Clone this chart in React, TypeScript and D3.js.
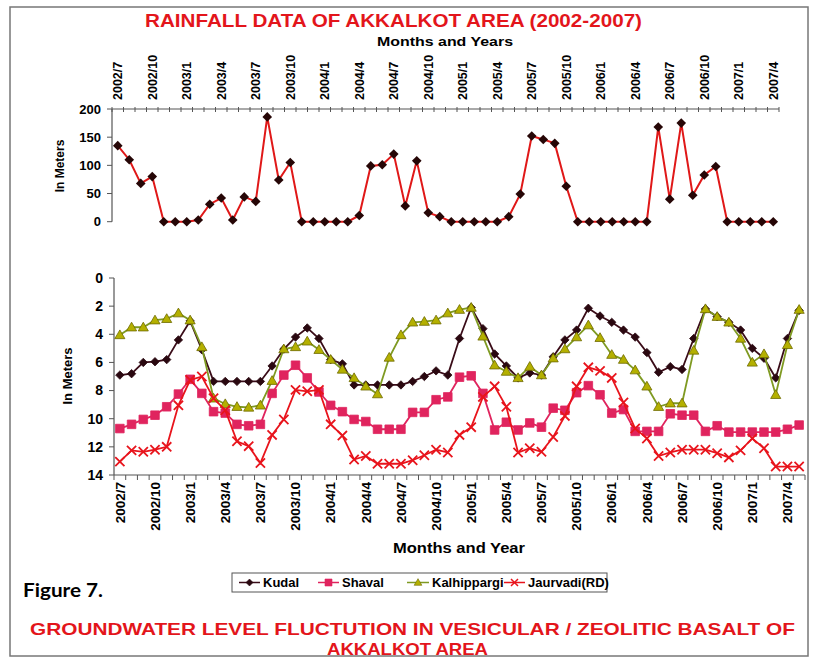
import { useEffect, useRef } from "react";
import * as d3 from "d3";

const W = 813;
const H = 659;
const FONT = "'Liberation Sans', Arial, sans-serif";

// tick labels shown every third month on both charts
const tickLabels = [
  "2002/7", "2002/10", "2003/1", "2003/4", "2003/7", "2003/10", "2004/1",
  "2004/4", "2004/7", "2004/10", "2005/1", "2005/4", "2005/7", "2005/10",
  "2006/1", "2006/4", "2006/7", "2006/10", "2007/1", "2007/4",
];

// monthly rainfall, 2002/7 .. 2007/4
const rainfall = [
  135, 110, 68, 80, 0, 0, 0, 3, 31, 42, 3, 44, 36, 186, 74, 105, 0, 0, 0, 0,
  0, 11, 99, 101, 120, 28, 108, 16, 9, 0, 0, 0, 0, 0, 9, 49, 152, 146, 139, 63,
  0, 0, 0, 0, 0, 0, 0, 168, 40, 175, 47, 83, 98, 0, 0, 0, 0, 0,
];
const rainTicks = [0, 50, 100, 150, 200];

// groundwater depth below ground (m), 2002/7 .. 2007/5
const kudal = [
  6.9, 6.8, 6.0, 5.95, 5.8, 4.4, 3.05, 5.1, 7.35, 7.35, 7.35, 7.35, 7.35, 6.25, 5.05, 4.2, 3.55, 4.3, 5.8, 6.1, 7.6,
  7.6, 7.6, 7.6, 7.6, 7.35, 7.0, 6.6, 6.9, 4.3, 2.1, 3.6, 5.4, 6.25, 7.1, 6.75, 6.9, 5.6, 4.4, 3.7, 2.15,
  2.7, 3.15, 3.7, 4.2, 5.3, 6.7, 6.3, 6.5, 4.3, 2.2, 2.75, 3.15, 3.7, 5.0, 5.7, 7.1, 4.3, 2.3,
];
const shaval = [
  10.7, 10.4, 10.05, 9.75, 9.15, 8.25, 7.2, 8.2, 9.5, 9.6, 10.4, 10.5, 10.4, 8.2, 6.9, 6.2, 7.1, 8.1, 9.05, 9.5, 10.05,
  10.2, 10.75, 10.75, 10.75, 9.55, 9.55, 8.65, 8.45, 7.05, 6.95, 8.2, 10.8, 10.25, 10.8, 10.3, 10.6, 9.25, 9.4, 8.15, 7.65,
  8.3, 9.6, 9.35, 10.9, 10.9, 10.9, 9.65, 9.75, 9.75, 10.9, 10.5, 10.95, 10.95, 10.95, 10.95, 10.95, 10.75, 10.45,
];
const kalhippargi = [
  4.05, 3.5, 3.5, 3.0, 2.9, 2.5, 3.0, 4.9, 8.55, 8.95, 9.15, 9.2, 9.05, 7.3, 5.05, 4.9, 4.5, 5.1, 5.8, 6.5, 7.1,
  7.7, 8.25, 5.65, 4.05, 3.15, 3.1, 3.0, 2.5, 2.25, 2.1, 4.15, 6.2, 6.65, 7.1, 6.3, 6.9, 5.7, 5.05, 4.2, 3.35,
  4.25, 5.45, 5.8, 6.55, 7.7, 9.15, 8.9, 8.9, 5.15, 2.2, 2.75, 3.15, 4.3, 6.0, 5.4, 8.3, 4.75, 2.25,
];
const jaurvadi = [
  13.05, 12.25, 12.35, 12.2, 12.0, 9.05, 7.25, 7.0, 8.55, 9.4, 11.6, 11.95, 13.15, 11.15, 10.05, 7.95, 8.05, 7.95, 10.4, 11.2, 12.9,
  12.65, 13.2, 13.2, 13.2, 12.95, 12.6, 12.2, 12.4, 11.15, 10.6, 8.45, 7.7, 9.15, 12.4, 12.1, 12.35, 11.3, 9.8, 7.7, 6.35,
  6.6, 7.1, 8.85, 10.7, 11.4, 12.65, 12.4, 12.2, 12.2, 12.2, 12.45, 12.75, 12.25, 11.4, 12.1, 13.4, 13.4, 13.4,
];
const levelTicks = [0, 2, 4, 6, 8, 10, 12, 14];

const seriesNames = ["Kudal", "Shaval", "Kalhippargi", "Jaurvadi(RD)"];

const markerPath = (kind, r) => {
  if (kind === "diamond") return `M0,${-r}L${r},0L0,${r}L${-r},0Z`;
  if (kind === "square") return `M${-r},${-r}h${2 * r}v${2 * r}h${-2 * r}Z`;
  if (kind === "triangle") return `M0,${-r * 1.1}L${r * 1.1},${r * 0.8}L${-r * 1.1},${r * 0.8}Z`;
  return `M${-r},${-r}L${r},${r}M${r},${-r}L${-r},${r}`;
};

const styles = [
  { line: "#3a0c18", fill: "#2a0810", stroke: "#2a0810", kind: "diamond", r: 4.2 },
  { line: "#e0245e", fill: "#e0245e", stroke: "#e0245e", kind: "square", r: 4.3 },
  { line: "#7f9a22", fill: "#b4b000", stroke: "#6d6a00", kind: "triangle", r: 4.6 },
  { line: "#e8141c", fill: "none", stroke: "#e8141c", kind: "cross", r: 4.6 },
];

const App = () => {
  const svgRef = useRef(null);

  useEffect(() => {
    const svg = d3.select(svgRef.current);
    svg.selectAll("*").remove();

    svg.append("rect").attr("x", 10).attr("y", 7).attr("width", 798).attr("height", 649)
      .attr("fill", "white").attr("stroke", "#777").attr("stroke-width", 1.5);

    // ---------- rainfall chart ----------
    const xr = d3.scaleBand().domain(d3.range(rainfall.length)).range([112, 779]);
    const yr = d3.scaleLinear().domain([0, 200]).range([221.7, 109]);
    const cx = (i) => xr(i) + xr.bandwidth() / 2;

    svg.append("text").attr("x", 393.5).attr("y", 27).attr("text-anchor", "middle")
      .attr("font-family", FONT).attr("font-weight", "bold").attr("font-size", 18)
      .attr("fill", "#e3151b").attr("textLength", 497).attr("lengthAdjust", "spacingAndGlyphs")
      .text("RAINFALL DATA OF AKKALKOT AREA (2002-2007)");
    svg.append("text").attr("x", 445).attr("y", 46).attr("text-anchor", "middle")
      .attr("font-family", FONT).attr("font-weight", "bold").attr("font-size", 13)
      .attr("textLength", 136).attr("lengthAdjust", "spacingAndGlyphs")
      .text("Months and Years");

    const gr = svg.append("g");
    gr.append("line").attr("x1", 112).attr("x2", 112).attr("y1", yr(200)).attr("y2", yr(0))
      .attr("stroke", "#555").attr("stroke-width", 1.2);
    gr.append("line").attr("x1", 112).attr("x2", 779).attr("y1", yr(200)).attr("y2", yr(200))
      .attr("stroke", "#555").attr("stroke-width", 1.2);
    rainTicks.forEach((t) => {
      gr.append("line").attr("x1", 107).attr("x2", 112).attr("y1", yr(t)).attr("y2", yr(t)).attr("stroke", "#555");
      gr.append("text").attr("x", 101).attr("y", yr(t)).attr("dy", "0.35em").attr("text-anchor", "end")
        .attr("font-family", FONT).attr("font-weight", "bold").attr("font-size", 13).text(t);
    });
    d3.range(rainfall.length + 1).forEach((i) => {
      const x = 112 + i * xr.step();
      gr.append("line").attr("x1", x).attr("x2", x).attr("y1", yr(200) - 2).attr("y2", yr(200) + 3)
        .attr("stroke", "#555");
    });
    tickLabels.forEach((lab, k) => {
      const x = cx(k * 3);
      gr.append("text").attr("transform", `translate(${x},100) rotate(-90)`).attr("dy", "0.35em")
        .attr("font-family", FONT).attr("font-weight", "bold").attr("font-size", 12.5).text(lab);
    });
    gr.append("text").attr("transform", `translate(60,166) rotate(-90)`).attr("text-anchor", "middle")
      .attr("dy", "0.35em").attr("font-family", FONT).attr("font-weight", "bold").attr("font-size", 12)
      .text("In Meters");

    const rainLine = d3.line().x((d, i) => cx(i)).y((d) => yr(d));
    gr.append("path").datum(rainfall).attr("d", rainLine).attr("fill", "none")
      .attr("stroke", "#e01818").attr("stroke-width", 2);
    gr.selectAll(".rm").data(rainfall).enter().append("path").attr("class", "rm")
      .attr("transform", (d, i) => `translate(${cx(i)},${yr(d)})`)
      .attr("d", markerPath("diamond", 4.8)).attr("fill", "#260606");

    // ---------- groundwater chart ----------
    const levels = [kudal, shaval, kalhippargi, jaurvadi];
    const xl = d3.scaleBand().domain(d3.range(kudal.length)).range([114, 805]);
    const yl = d3.scaleLinear().domain([0, 14]).range([278, 475]);
    const lx = (i) => xl(i) + xl.bandwidth() / 2;

    const gl = svg.append("g");
    gl.append("line").attr("x1", 114).attr("x2", 114).attr("y1", yl(0)).attr("y2", yl(14))
      .attr("stroke", "#555").attr("stroke-width", 1.2);
    gl.append("line").attr("x1", 114).attr("x2", 805).attr("y1", yl(14)).attr("y2", yl(14))
      .attr("stroke", "#555").attr("stroke-width", 1.2);
    levelTicks.forEach((t) => {
      gl.append("line").attr("x1", 109).attr("x2", 114).attr("y1", yl(t)).attr("y2", yl(t)).attr("stroke", "#555");
      gl.append("text").attr("x", 103).attr("y", yl(t)).attr("dy", "0.35em").attr("text-anchor", "end")
        .attr("font-family", FONT).attr("font-weight", "bold").attr("font-size", 14).text(t);
    });
    d3.range(kudal.length + 1).forEach((i) => {
      const x = 114 + i * xl.step();
      gl.append("line").attr("x1", x).attr("x2", x).attr("y1", yl(14)).attr("y2", yl(14) + 5)
        .attr("stroke", "#555");
    });
    tickLabels.forEach((lab, k) => {
      const x = lx(k * 3);
      gl.append("text").attr("transform", `translate(${x},482) rotate(-90)`).attr("dy", "0.35em")
        .attr("text-anchor", "end").attr("font-family", FONT).attr("font-weight", "bold")
        .attr("font-size", 13.5).text(lab);
    });
    gl.append("text").attr("transform", `translate(67,376) rotate(-90)`).attr("text-anchor", "middle")
      .attr("dy", "0.35em").attr("font-family", FONT).attr("font-weight", "bold").attr("font-size", 13)
      .text("In Meters");
    gl.append("text").attr("x", 459).attr("y", 553).attr("text-anchor", "middle")
      .attr("font-family", FONT).attr("font-weight", "bold").attr("font-size", 14)
      .attr("textLength", 132).attr("lengthAdjust", "spacingAndGlyphs").text("Months and Year");

    levels.forEach((vals, s) => {
      const st = styles[s];
      const line = d3.line().x((d, i) => lx(i)).y((d) => yl(d));
      gl.append("path").datum(vals).attr("d", line).attr("fill", "none")
        .attr("stroke", st.line).attr("stroke-width", 1.8);
      gl.selectAll(`.m${s}`).data(vals).enter().append("path").attr("class", `m${s}`)
        .attr("transform", (d, i) => `translate(${lx(i)},${yl(d)})`)
        .attr("d", markerPath(st.kind, st.r))
        .attr("fill", st.fill).attr("stroke", st.stroke)
        .attr("stroke-width", st.kind === "cross" ? 1.8 : 0.8);
    });

    // ---------- legend ----------
    const lg = svg.append("g");
    lg.append("rect").attr("x", 232).attr("y", 573).attr("width", 375).attr("height", 19)
      .attr("fill", "white").attr("stroke", "#555");
    const legendPos = [
      { x1: 239, x2: 260, tx: 263 },
      { x1: 318, x2: 339, tx: 342 },
      { x1: 407, x2: 429, tx: 432 },
      { x1: 504, x2: 525, tx: 528 },
    ];
    seriesNames.forEach((name, s) => {
      const st = styles[s];
      const p = legendPos[s];
      lg.append("line").attr("x1", p.x1).attr("x2", p.x2).attr("y1", 582.5).attr("y2", 582.5)
        .attr("stroke", st.line).attr("stroke-width", 1.5);
      lg.append("path").attr("transform", `translate(${(p.x1 + p.x2) / 2},582.5)`)
        .attr("d", markerPath(st.kind, 3.5)).attr("fill", st.fill).attr("stroke", st.stroke)
        .attr("stroke-width", st.kind === "cross" ? 1.5 : 0.6);
      lg.append("text").attr("x", p.tx).attr("y", 587).attr("font-family", FONT)
        .attr("font-weight", "bold").attr("font-size", 13).text(name);
    });

    svg.append("text").attr("x", 23).attr("y", 597).attr("font-family", "Lato, 'Open Sans', sans-serif")
      .attr("font-weight", "bold").attr("font-size", 19).attr("textLength", 80)
      .attr("lengthAdjust", "spacingAndGlyphs").text("Figure 7.");

    svg.append("text").attr("x", 412.5).attr("y", 635).attr("text-anchor", "middle")
      .attr("font-family", FONT).attr("font-weight", "bold").attr("font-size", 16.5)
      .attr("fill", "#e3151b").attr("textLength", 765).attr("lengthAdjust", "spacingAndGlyphs")
      .text("GROUNDWATER LEVEL FLUCTUTION IN VESICULAR / ZEOLITIC BASALT OF");
    svg.append("text").attr("x", 407.5).attr("y", 655).attr("text-anchor", "middle")
      .attr("font-family", FONT).attr("font-weight", "bold").attr("font-size", 16.5)
      .attr("fill", "#e3151b").attr("textLength", 161).attr("lengthAdjust", "spacingAndGlyphs")
      .text("AKKALKOT AREA");
  }, []);

  return (
    <div style={{ position: "absolute", left: 0, top: 0 }}>
      <svg ref={svgRef} width={W} height={H} style={{ display: "block" }}></svg>
    </div>
  );
};

export default App;
